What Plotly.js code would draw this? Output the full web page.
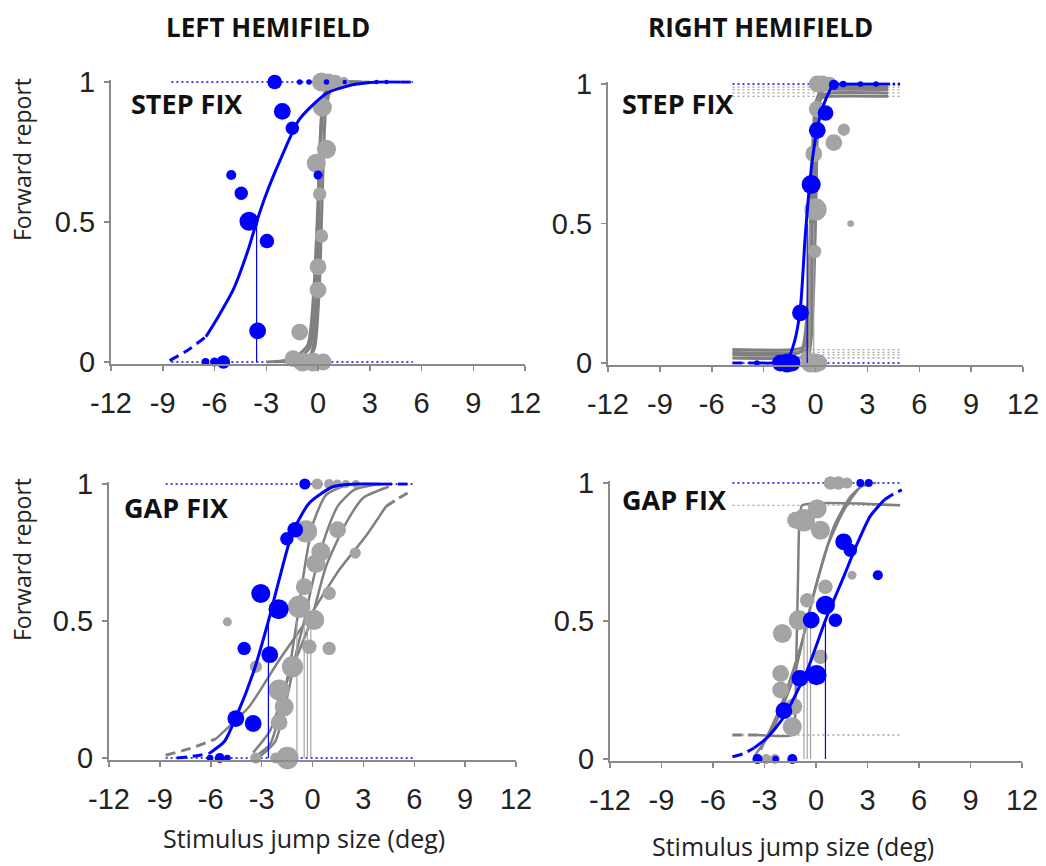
<!DOCTYPE html>
<html>
<head>
<meta charset="utf-8">
<script src="https://cdn.plot.ly/plotly-3.0.1.min.js"></script>
<style>html,body{margin:0;padding:0;background:#fff}#chart{width:1046px;height:866px}</style>
</head>
<body>
<div id="chart"></div>
<script>
// ================= DATA =================
// ---- Top-left: LEFT HEMIFIELD, STEP FIX ----
const tlBlueFitX  = [-6.5, -5.8, -4.9, -4.0, -3.56, -3.0, -2.2, -1.1, 0.5, 2.0, 3.5, 4.8];
const tlBlueFitY  = [0.09, 0.16, 0.26, 0.41, 0.50, 0.60, 0.72, 0.865, 0.96, 0.99, 1.0, 1.0];
const tlBlueTailX = [-8.6, -7.6, -6.5];
const tlBlueTailY = [0.005, 0.04, 0.09];
const tlBlueHeadX = [4.8, 5.5];
const tlBlueHeadY = [1, 1];
const tlBlueMid   = -3.56;
const tlBlueX = [-2.51, -1.06, -0.52, 0.49, 1.55, 3.39, 3.97, -2.07, -1.49, -5.03, -4.45, -4.0, -2.96, -3.5, 0.0, -6.52, -6.0, -5.48];
const tlBlueY = [1, 1, 1, 1, 1, 1, 1, 0.895, 0.835, 0.668, 0.603, 0.503, 0.432, 0.111, 0.668, 0, 0, 0];
const tlBlueN = [13, 5, 5, 5, 4, 4, 4, 15, 12, 9, 12, 17, 13, 15, 8, 7, 8, 12];
const tlGrayX = [0.2, 0.6, 1.0, 1.5, 0.25, 0.49, -0.1, 0.0, 0.0, -1.06, -1.45, -0.9, -0.3, 0.3, 0.1, 0.2];
const tlGrayY = [1, 1, 1, 1, 0.91, 0.76, 0.71, 0.34, 0.257, 0.107, 0.012, 0, 0, 0, 0.6, 0.45];
const tlGrayN = [17, 15, 13, 9, 17, 17, 17, 15, 15, 15, 15, 17, 17, 15, 12, 12];
const tlGrayFitX = [
  [-2.0, -1.0, -0.4, -0.1, 0.05, 0.15, 0.3, 0.6, 1.2, 2.0, 3.0],
  [-2.5, -1.2, -0.5, -0.15, 0.0, 0.1, 0.25, 0.5, 1.0, 2.0],
  [-1.5, -0.6, -0.2, 0.1, 0.2, 0.3, 0.45, 0.8, 1.5, 2.5],
  [-3.0, -1.5, -0.6, -0.25, -0.05, 0.1, 0.3, 0.7, 1.5, 2.5]
];
const tlGrayFitY = [
  [0, 0.005, 0.03, 0.15, 0.5, 0.8, 0.93, 0.98, 1.0, 1.0, 1.0],
  [0, 0.01, 0.05, 0.2, 0.5, 0.75, 0.92, 0.98, 1, 1],
  [0, 0.01, 0.05, 0.3, 0.5, 0.7, 0.9, 0.98, 1, 1],
  [0, 0.01, 0.06, 0.25, 0.5, 0.72, 0.9, 0.97, 1, 1]
];
const tlGuideX = [-8.5, 5.5];
const tlBlueGuideY = [0, 1];

// ---- Top-right: RIGHT HEMIFIELD, STEP FIX ----
const trBlueFitX  = [-3.3, -2.5, -1.64, -1.2, -0.87, -0.6, -0.4, -0.2, 0.1, 0.5, 1.06, 2.0, 4.2];
const trBlueFitY  = [0.0, 0.0, 0.01, 0.08, 0.2, 0.45, 0.6, 0.72, 0.84, 0.93, 0.997, 1.0, 1.0];
const trBlueTailX = [-4.8, -3.3];
const trBlueTailY = [0, 0];
const trBlueHeadX = [4.2, 5.0];
const trBlueHeadY = [1, 1];
const trBlueMid   = -0.48;
const trBlueX = [-2.03, -1.35, -1.64, -3.39, -0.87, -0.25, 0.1, 0.58, 1.06, 1.6, 2.6, 3.5];
const trBlueY = [0, 0, 0, 0, 0.18, 0.64, 0.834, 0.896, 0.997, 1, 1, 1];
const trBlueN = [15, 15, 17, 5, 15, 17, 15, 14, 9, 6, 5, 5];
const trGrayX = [0.1, 0.4, 0.8, 0.1, 1.64, 1.06, -0.1, 0.0, 2.03, -0.05, -0.3, 0.0, -0.5, 0.2];
const trGrayY = [1, 1, 1, 0.91, 0.836, 0.79, 0.75, 0.55, 0.5, 0.4, 0, 0, 0.02, 0];
const trGrayN = [15, 15, 13, 15, 11, 15, 15, 20, 6, 12, 17, 17, 12, 15];
const trGrayFitX = [
  [-4.8, -1.2, -0.6, -0.35, -0.2, -0.05, 0.1, 0.35, 0.8, 4.2],
  [-4.8, -1.0, -0.5, -0.25, -0.1, 0.05, 0.2, 0.45, 0.9, 4.2],
  [-4.8, -1.4, -0.8, -0.45, -0.3, -0.15, 0.0, 0.3, 0.7, 4.2],
  [-4.8, -1.0, -0.4, -0.15, 0.0, 0.1, 0.25, 0.5, 1.0, 4.2]
];
const trGrayFitY = [
  [0.048, 0.048, 0.06, 0.2, 0.5, 0.8, 0.92, 0.95, 0.956, 0.956],
  [0.038, 0.038, 0.05, 0.2, 0.5, 0.8, 0.93, 0.96, 0.968, 0.968],
  [0.03, 0.03, 0.045, 0.2, 0.5, 0.8, 0.93, 0.975, 0.98, 0.98],
  [0.018, 0.018, 0.03, 0.2, 0.5, 0.8, 0.94, 0.98, 0.989, 0.989]
];
const trGrayLow  = [0.048, 0.038, 0.03, 0.018];
const trGrayHigh = [0.956, 0.968, 0.98, 0.989];
const trGrayMid  = [-0.33, -0.1];
const trGuideX = [-4.8, 5.0];
const trBlueGuideY = [0, 1];

// ---- Bottom-left: LEFT HEMIFIELD, GAP FIX ----
const blBlueFitX  = [-6.1, -5.2, -4.5, -3.5, -2.6, -1.97, -1.2, -0.2, 1.2, 2.5, 4.1];
const blBlueFitY  = [0.016, 0.06, 0.15, 0.31, 0.5, 0.65, 0.82, 0.93, 0.99, 1.0, 1.0];
const blBlueTailX = [-8.0, -7.2, -6.1];
const blBlueTailY = [0.0, 0.005, 0.016];
const blBlueHeadX = [4.1, 5.6];
const blBlueHeadY = [1, 1];
const blBlueMid   = -2.6;
const blBlueX = [-0.45, -1.02, -1.51, -3.05, -2.0, -4.03, -2.52, -4.52, -3.5, -6.04, -5.47, -5.02];
const blBlueY = [1, 0.833, 0.80, 0.60, 0.543, 0.40, 0.377, 0.144, 0.126, 0, 0, 0];
const blBlueN = [10, 14, 12, 17, 18, 12, 15, 15, 15, 6, 9, 6];
const blGrayX = [0.28, 0.98, 1.46, 1.97, 2.56, -0.39, 1.48, 0.49, 0.2, 2.52, -0.49, 0.98, -0.79, 0.1, -5.02, 0.98, -3.34, -1.18, -1.97, -1.67, -1.97, -3.34, -2.16, -1.48, -0.19];
const blGrayY = [1, 1, 1, 1, 1, 0.827, 0.833, 0.753, 0.71, 0.748, 0.625, 0.601, 0.552, 0.504, 0.497, 0.40, 0.333, 0.333, 0.248, 0.187, 0.13, 0, 0, 0, 0.406];
const blGrayN = [10, 9, 8, 7, 7, 20, 15, 17, 17, 10, 15, 12, 20, 18, 8, 12, 11, 19, 19, 17, 15, 10, 10, 20, 13];
const blGrayFitX = [
  [-3.5, -2.5, -1.8, -1.3, -0.92, -0.5, 0.0, 0.8, 2.0, 4.0],
  [-3.2, -2.2, -1.5, -0.9, -0.49, 0.0, 0.7, 1.5, 2.5, 4.0],
  [-3.5, -2.5, -1.5, -0.1, 0.8, 2.0, 3.0, 4.5],
  [-5.7, -3.74, -1.97, -0.19, 1.58, 3.15, 4.33]
];
const blGrayFitY = [
  [0.0, 0.05, 0.2, 0.35, 0.5, 0.68, 0.85, 0.96, 0.995, 1.0],
  [0.0, 0.06, 0.22, 0.4, 0.5, 0.64, 0.8, 0.92, 0.98, 1.0],
  [0.02, 0.1, 0.28, 0.5, 0.7, 0.86, 0.95, 0.99],
  [0.07, 0.187, 0.357, 0.516, 0.687, 0.81, 0.918]
];
const blGrayTailX = [-8.66, -7.2, -5.7];
const blGrayTailY = [0.01, 0.035, 0.07];
const blGrayHeadX = [4.33, 5.0, 5.61];
const blGrayHeadY = [0.918, 0.945, 0.967];
const blGrayMid = [-0.92, -0.49, -0.3, -0.1];
const blGuideX = [-8.66, 6.0];
const blBlueGuideY = [0, 1];

// ---- Bottom-right: RIGHT HEMIFIELD, GAP FIX ----
const brBlueFitX  = [-3.61, -2.8, -1.87, -0.51, 0.55, 1.61, 2.4, 3.16, 4.0];
const brBlueFitY  = [0.04, 0.08, 0.153, 0.322, 0.503, 0.66, 0.78, 0.88, 0.94];
const brBlueTailX = [-4.87, -4.2, -3.61];
const brBlueTailY = [0.008, 0.02, 0.04];
const brBlueHeadX = [4.0, 4.5, 5.0];
const brBlueHeadY = [0.94, 0.96, 0.975];
const brBlueMid   = 0.55;
const brBlueX = [2.58, 3.07, 1.61, 2.0, 0.55, -0.28, 1.13, 0.03, -0.94, -1.87, -3.41, -2.35, -1.38, 3.6];
const brBlueY = [1, 1, 0.787, 0.756, 0.557, 0.503, 0.503, 0.304, 0.292, 0.175, 0, 0, 0, 0.666];
const brBlueN = [7, 7, 15, 12, 17, 15, 12, 18, 15, 15, 9, 6, 9, 9];
const brGrayX = [0.84, 1.3, 1.8, -0.71, 0.07, 0.26, -1.19, 2.1, 0.55, -0.51, -1.0, -1.96, 0.26, -2.06, -2.06, -1.29, -1.38, -3.4, -2.9, -2.4];
const brGrayY = [1, 1, 1, 0.865, 0.907, 0.829, 0.865, 0.666, 0.624, 0.575, 0.503, 0.455, 0.37, 0.31, 0.25, 0.19, 0.117, 0, 0, 0];
const brGrayN = [12, 12, 10, 20, 17, 17, 15, 8, 13, 13, 18, 17, 13, 15, 15, 15, 17, 9, 9, 9];
const brGrayFitX = [
  [-3.4, -1.4, -1.25, -1.15, -1.05, -0.95, -0.8, 4.9],
  [-3.61, -2.45, -1.29, -0.51, 0.26, 1.03, 2.0, 2.87, 3.5],
  [-3.22, -2.06, -0.9, -0.13, 0.65, 1.61, 2.58, 3.3]
];
const brGrayFitY = [
  [0.087, 0.087, 0.12, 0.35, 0.65, 0.88, 0.919, 0.919],
  [0.008, 0.117, 0.298, 0.503, 0.684, 0.84, 0.95, 0.998, 1.0],
  [0.033, 0.19, 0.406, 0.6, 0.768, 0.9, 0.985, 1.0]
];
const brGrayTailX = [-4.87, -3.4];
const brGrayTailY = [0.087, 0.087];
const brGrayLow  = [0.087];
const brGrayHigh = [0.919];
const brGrayMid = [-0.7, -0.51, -0.32];
const brGuideX = [-4.87, 5.0];
const brBlueGuideY = [1];

// Tick labels
const xTicks = [-12, -9, -6, -3, 0, 3, 6, 9, 12];
const yTicks = [0, 0.5, 1];
const yTickText = ['0', '0.5', '1'];

// ================= STYLE =================
const BLUE = '#0000ff';
const GRAYL = 'rgb(128,128,128)';
const GRAYM = 'rgb(164,164,164)';
const DOT = '2px,3px';
const DASH = '10px,6px';
const MSCALE = 1.12;

const traces = [];
function lineT(x, y, ax, color, width, dash, shape) {
  traces.push({type:'scatter', mode:'lines', x:x, y:y, xaxis:'x'+ax, yaxis:'y'+ax,
    line:{color:color, width:width, dash:dash||'solid', shape:shape||'spline', smoothing:0.6},
    hoverinfo:'skip', showlegend:false});
}
function markT(x, y, n, ax, color) {
  traces.push({type:'scatter', mode:'markers', x:x, y:y, xaxis:'x'+ax, yaxis:'y'+ax,
    marker:{size:n.map(v => v * MSCALE), color:color, opacity:1, line:{width:0}}, cliponaxis:false,
    hoverinfo:'skip', showlegend:false});
}
function guides(xr, ys, ax, color) {
  ys.forEach(v => lineT(xr, [v, v], ax, color, 1.3, DOT, 'linear'));
}
function mids(xs, ax, color) {
  xs.forEach(v => lineT([v, v], [0, 0.5], ax, color, 1.2, 'solid', 'linear'));
}

// ---- panel 1 (top-left) ----
guides(tlGuideX, tlBlueGuideY, '', BLUE);
tlGrayFitX.forEach((xs, i) => lineT(xs, tlGrayFitY[i], '', GRAYL, 3));
markT(tlGrayX, tlGrayY, tlGrayN, '', GRAYM);
mids([tlBlueMid], '', BLUE);
lineT(tlBlueTailX, tlBlueTailY, '', BLUE, 3, DASH);
lineT(tlBlueFitX, tlBlueFitY, '', BLUE, 3);
lineT(tlBlueHeadX, tlBlueHeadY, '', BLUE, 3, DASH, 'linear');
markT(tlBlueX, tlBlueY, tlBlueN, '', BLUE);

// ---- panel 2 (top-right) ----
guides(trGuideX, trGrayLow.concat(trGrayHigh), '2', GRAYM);
guides(trGuideX, trBlueGuideY, '2', BLUE);
trGrayFitX.forEach((xs, i) => lineT(xs, trGrayFitY[i], '2', GRAYL, 3));
mids(trGrayMid, '2', GRAYM);
markT(trGrayX, trGrayY, trGrayN, '2', GRAYM);
mids([trBlueMid], '2', BLUE);
lineT(trBlueTailX, trBlueTailY, '2', BLUE, 3, DASH, 'linear');
lineT(trBlueFitX, trBlueFitY, '2', BLUE, 3);
lineT(trBlueHeadX, trBlueHeadY, '2', BLUE, 3, DOT, 'linear');
markT(trBlueX, trBlueY, trBlueN, '2', BLUE);

// ---- panel 3 (bottom-left) ----
guides(blGuideX, blBlueGuideY, '3', BLUE);
blGrayFitX.forEach((xs, i) => lineT(xs, blGrayFitY[i], '3', GRAYL, 2.5));
lineT(blGrayTailX, blGrayTailY, '3', GRAYL, 3, DASH);
lineT(blGrayHeadX, blGrayHeadY, '3', GRAYL, 3, DASH);
mids(blGrayMid, '3', GRAYM);
markT(blGrayX, blGrayY, blGrayN, '3', GRAYM);
mids([blBlueMid], '3', BLUE);
lineT(blBlueTailX, blBlueTailY, '3', BLUE, 3, DASH);
lineT(blBlueFitX, blBlueFitY, '3', BLUE, 3);
lineT(blBlueHeadX, blBlueHeadY, '3', BLUE, 3, DASH, 'linear');
markT(blBlueX, blBlueY, blBlueN, '3', BLUE);

// ---- panel 4 (bottom-right) ----
guides(brGuideX, brGrayLow.concat(brGrayHigh), '4', GRAYM);
guides(brGuideX, brBlueGuideY, '4', BLUE);
brGrayFitX.forEach((xs, i) => lineT(xs, brGrayFitY[i], '4', GRAYL, 2.5));
lineT(brGrayTailX, brGrayTailY, '4', GRAYL, 3, DASH, 'linear');
mids(brGrayMid, '4', GRAYM);
markT(brGrayX, brGrayY, brGrayN, '4', GRAYM);
mids([brBlueMid], '4', BLUE);
lineT(brBlueTailX, brBlueTailY, '4', BLUE, 3, DASH);
lineT(brBlueFitX, brBlueFitY, '4', BLUE, 3);
lineT(brBlueHeadX, brBlueHeadY, '4', BLUE, 3, DASH);
markT(brBlueX, brBlueY, brBlueN, '4', BLUE);

// ================= LAYOUT =================
const W = 1046, H = 866, PAD = 0.006;
function xdom(p0, p1) { return [p0 / W, p1 / W]; }
function ydom(pTop, pBot) {
  const h = pBot - pTop;
  return [1 - (pBot + PAD * h) / H, 1 - (pTop - PAD * h) / H];
}
const tickFont = {family:'Liberation Sans, Arial, sans-serif', size:29, color:'#222'};
function xAx(dom, anchor) {
  return {domain:dom, anchor:anchor, range:[-12, 12], tickmode:'array', tickvals:xTicks,
    ticktext:xTicks.map(String), showline:true, linecolor:'#8a8a8a', linewidth:2,
    ticks:'outside', ticklen:5, tickwidth:1.5, tickcolor:'#8a8a8a', showgrid:false,
    zeroline:false, tickfont:tickFont, ticklabelstandoff:8, fixedrange:true};
}
function yAx(dom, anchor) {
  return {domain:dom, anchor:anchor, range:[-PAD, 1 + PAD], tickmode:'array', tickvals:yTicks,
    ticktext:yTickText, showline:true, linecolor:'#8a8a8a', linewidth:2,
    ticks:'outside', ticklen:5, tickwidth:1.5, tickcolor:'#8a8a8a', showgrid:false,
    zeroline:false, tickfont:tickFont, ticklabelstandoff:3, fixedrange:true};
}

const titleFont = {family:'Open Sans, sans-serif', size:26, color:'#111', weight:'bold'};
const panelFont = {family:'Open Sans, sans-serif', size:27, color:'#111', weight:'bold'};
const xlabFont = {family:'Open Sans, sans-serif', size:25, color:'#222'};
const ylabFont = {family:'Open Sans, sans-serif', size:23, color:'#222'};

function ann(text, px, py, font, xanchor, angle) {
  return {text:text, xref:'paper', yref:'paper', x:px / W, y:1 - py / H, showarrow:false,
    xanchor:xanchor || 'center', yanchor:'middle', font:font, textangle:angle || 0};
}

const layout = {
  width:W, height:H, margin:{l:0, r:0, t:0, b:0}, paper_bgcolor:'#fff', plot_bgcolor:'rgba(0,0,0,0)',
  showlegend:false,
  xaxis:  xAx(xdom(111, 525), 'y'),
  yaxis:  yAx(ydom(82, 362), 'x'),
  xaxis2: xAx(xdom(608, 1023), 'y2'),
  yaxis2: yAx(ydom(84, 363), 'x2'),
  xaxis3: xAx(xdom(109, 516), 'y3'),
  yaxis3: yAx(ydom(484, 758), 'x3'),
  xaxis4: xAx(xdom(610, 1022), 'y4'),
  yaxis4: yAx(ydom(483, 759), 'x4'),
  annotations: [
    ann('LEFT HEMIFIELD', 268, 27, titleFont),
    ann('RIGHT HEMIFIELD', 760, 27, titleFont),
    ann('STEP FIX', 129, 103, panelFont, 'left'),
    ann('STEP FIX', 620, 103, panelFont, 'left'),
    ann('GAP FIX', 122, 508, panelFont, 'left'),
    ann('GAP FIX', 620, 500, panelFont, 'left'),
    ann('Forward report', 22, 160, ylabFont, 'center', -90),
    ann('Forward report', 22, 560, ylabFont, 'center', -90),
    ann('Stimulus jump size (deg)', 304, 838, xlabFont),
    ann('Stimulus jump size (deg)', 793, 846, xlabFont)
  ]
};

Plotly.newPlot('chart', traces, layout, {staticPlot:true, displayModeBar:false});
</script>
</body>
</html>
